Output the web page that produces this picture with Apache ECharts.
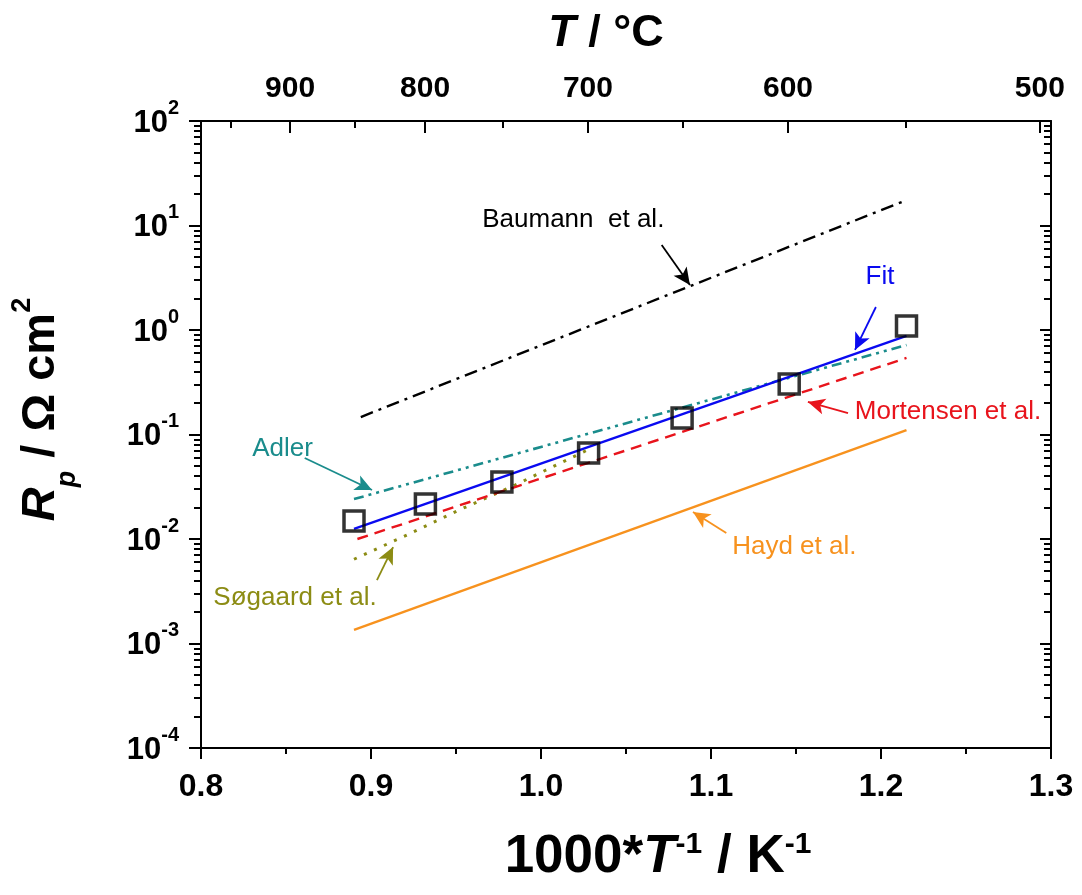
<!DOCTYPE html>
<html>
<head>
<meta charset="utf-8">
<script src="https://cdn.jsdelivr.net/npm/echarts@6/dist/echarts.min.js"></script>
<style>
  html, body { margin: 0; padding: 0; background: #fff; }
  #chart { width: 1082px; height: 895px; }
</style>
</head>
<body>
<div id="chart"></div>
<script>
// measured Rp (squares), x = 1000/T in 1/K
const invT = [0.890, 0.932, 0.977, 1.028, 1.083, 1.146, 1.215];
const rpMeasured = [0.0149, 0.0216, 0.0351, 0.0665, 0.144, 0.304, 1.09];

// lines: [1000/T, Rp]
const fitLine = [[0.890, 0.0125], [1.215, 0.877]];
const adlerLine = [[0.890, 0.0241], [1.215, 0.718]];
const mortensenLine = [[0.892, 0.0100], [1.215, 0.540]];
const haydLine = [[0.890, 0.00135], [1.215, 0.110]];
const baumannLine = [[0.894, 0.147], [1.215, 17.5]];
const soegaardLine = [[0.890, 0.0064], [0.921, 0.0109], [0.952, 0.0190], [0.985, 0.0330], [1.028, 0.0720]];

// axis ticks
const yDecades = [1e-4, 1e-3, 1e-2, 1e-1, 1, 10, 100];
const tempMajor = [900, 800, 700, 600, 500];   // °C, top axis
const tempMinor = [950, 850, 750, 650, 550];

// annotation text + arrow (from, to), in data coords
const notes = {
  baumann:   { text: 'Baumann  et al.',  at: [1.019, 11.3],  from: [1.071, 6.5],   to: [1.0876, 2.7] },
  fit:       { text: 'Fit',              at: [1.1994, 3.2],  from: [1.197, 1.66],  to: [1.1847, 0.644] },
  mortensen: { text: 'Mortensen et al.', at: [1.2394, 0.164], from: [1.1806, 0.16], to: [1.157, 0.205] },
  hayd:      { text: 'Hayd et al.',      at: [1.149, 0.00838], from: [1.109, 0.0114], to: [1.0894, 0.0181] },
  adler:     { text: 'Adler',            at: [0.848, 0.0726], from: [0.861, 0.0596], to: [0.9006, 0.0294] },
  soegaard:  { text: 'Søgaard et al.',   at: [0.8553, 0.00272], from: [0.9035, 0.00405], to: [0.913, 0.00838] }
};

const font = '"Liberation Sans", Arial, sans-serif';
const toInv = t => 1000 / (t + 273.15);

const yMinor = [];
yDecades.slice(0, -1).forEach(d => {
  for (let k = 2; k <= 9; k++) yMinor.push(+(k * d).toPrecision(3));
});

function lineSeries(data, color, dash, width, note) {
  return {
    type: 'line',
    data: data,
    symbol: 'none',
    lineStyle: { color: color, width: width, type: dash, cap: 'butt' },
    z: 3,
    markLine: {
      silent: true,
      symbol: ['none', 'arrow'],
      symbolSize: [12, 17],
      label: { show: false },
      lineStyle: { color: color, width: 1.8, type: 'solid' },
      data: [[{ coord: note.from }, { coord: note.to }]]
    },
    markPoint: {
      silent: true,
      symbol: 'rect',
      symbolSize: 1,
      itemStyle: { color: 'rgba(0,0,0,0)' },
      label: {
        show: true, position: 'inside', formatter: note.text,
        color: color, fontSize: 26, fontFamily: font
      },
      data: [{ coord: note.at }]
    }
  };
}

const chart = echarts.init(document.getElementById('chart'));

const tickStyle = { color: '#000', width: 2 };
const boldLabel = { color: '#000', fontFamily: font, fontWeight: 'bold' };

chart.setOption({
  animation: false,
  backgroundColor: '#fff',
  grid: { left: 201, right: 31, top: 121, bottom: 147, containLabel: false, outerBoundsMode: 'none' },
  xAxis: [
    {
      type: 'value', position: 'bottom', min: 0.8, max: 1.3, interval: 0.1,
      axisLine: { show: true, onZero: false, lineStyle: tickStyle },
      axisTick: { show: true, inside: false, length: 11, lineStyle: tickStyle },
      minorTick: { show: true, splitNumber: 2, length: 6, lineStyle: tickStyle },
      splitLine: { show: false },
      axisLabel: Object.assign({ fontSize: 32, margin: 23, formatter: v => v.toFixed(1) }, boldLabel),
      name: '{f|1000*}{i|T}{s|-1}{n| / K}{s|-1}',
      nameLocation: 'middle',
      nameGap: 82,
      nameTextStyle: {
        rich: {
          f: Object.assign({ fontSize: 53, lineHeight: 54, padding: [0, 0, 0, 64] }, boldLabel),
          n: Object.assign({ fontSize: 53, lineHeight: 54 }, boldLabel),
          i: Object.assign({ fontSize: 53, lineHeight: 54, fontStyle: 'italic' }, boldLabel),
          s: Object.assign({ fontSize: 30, lineHeight: 30, verticalAlign: 'top' }, boldLabel)
        }
      }
    },
    {
      type: 'value', position: 'top', min: 0.8, max: 1.3,
      axisLine: { show: true, onZero: false, lineStyle: tickStyle },
      axisTick: { show: true, inside: true, length: 12, lineStyle: tickStyle, customValues: tempMajor.map(toInv) },
      splitLine: { show: false },
      axisLabel: Object.assign({
        fontSize: 30, margin: 17,
        customValues: tempMajor.map(toInv),
        formatter: v => String(Math.round(1000 / v - 273.15))
      }, boldLabel),
      name: '{i|T}{n| / °C}',
      nameLocation: 'middle',
      nameGap: 65,
      nameTextStyle: {
        rich: {
          n: Object.assign({ fontSize: 45, padding: [0, 40, 0, 0] }, boldLabel),
          i: Object.assign({ fontSize: 45, fontStyle: 'italic' }, boldLabel)
        }
      }
    },
    {
      type: 'value', position: 'top', min: 0.8, max: 1.3,
      axisLine: { show: false },
      axisTick: { show: true, inside: true, length: 7, lineStyle: tickStyle, customValues: tempMinor.map(toInv) },
      axisLabel: { show: false },
      splitLine: { show: false }
    }
  ],
  yAxis: [
    {
      type: 'log', logBase: 10, min: 1e-4, max: 100, position: 'left',
      axisLine: { show: true, onZero: false, lineStyle: tickStyle },
      axisTick: { show: true, inside: false, length: 12, lineStyle: tickStyle, customValues: yDecades },
      splitLine: { show: false },
      axisLabel: {
        margin: 22,
        customValues: yDecades,
        formatter: v => '{b|10}{s|' + Math.round(Math.log10(v)) + '}',
        rich: {
          b: Object.assign({ fontSize: 31, lineHeight: 52, padding: [4, 0, 0, 0] }, boldLabel),
          s: Object.assign({ fontSize: 20, lineHeight: 20, verticalAlign: 'top', padding: [3, 0, 0, 0] }, boldLabel)
        }
      },
      name: '{i|R}{sub|p}{n| / Ω cm}{sup|2}',
      nameLocation: 'middle',
      nameRotate: 90,
      nameGap: 120,
      nameTextStyle: {
        rich: {
          i: Object.assign({ fontSize: 47, lineHeight: 79, fontStyle: 'italic', padding: [0, 0, 0, 50] }, boldLabel),
          n: Object.assign({ fontSize: 47, lineHeight: 79 }, boldLabel),
          sub: Object.assign({ fontSize: 27, lineHeight: 27, verticalAlign: 'bottom', fontStyle: 'italic' }, boldLabel),
          sup: Object.assign({ fontSize: 27, lineHeight: 27, verticalAlign: 'top', padding: [7, 0, 0, 0] }, boldLabel)
        }
      }
    },
    {
      type: 'log', logBase: 10, min: 1e-4, max: 100, position: 'left',
      axisLine: { show: false },
      axisTick: { show: true, inside: false, length: 7, lineStyle: tickStyle, customValues: yMinor },
      axisLabel: { show: false },
      splitLine: { show: false }
    },
    {
      type: 'log', logBase: 10, min: 1e-4, max: 100, position: 'right',
      axisLine: { show: true, onZero: false, lineStyle: tickStyle },
      axisTick: { show: true, inside: true, length: 11, lineStyle: tickStyle, customValues: yDecades },
      axisLabel: { show: false },
      splitLine: { show: false }
    },
    {
      type: 'log', logBase: 10, min: 1e-4, max: 100, position: 'right',
      axisLine: { show: false },
      axisTick: { show: true, inside: true, length: 7, lineStyle: tickStyle, customValues: yMinor },
      axisLabel: { show: false },
      splitLine: { show: false }
    }
  ],
  series: [
    lineSeries(baumannLine, '#000000', [13, 6, 3, 6], 2.4, notes.baumann),
    lineSeries(haydLine, '#f7921e', 'solid', 2.4, notes.hayd),
    lineSeries(soegaardLine, '#8c8c14', [3, 8], 3, notes.soegaard),
    lineSeries(mortensenLine, '#e8141c', [11, 7], 2.4, notes.mortensen),
    lineSeries(adlerLine, '#1a8c8c', [10, 5, 3, 5, 3, 5], 2.6, notes.adler),
    lineSeries(fitLine, '#0a0af0', 'solid', 2.4, notes.fit),
    {
      type: 'scatter',
      data: invT.map((x, i) => [x, rpMeasured[i]]),
      symbol: 'rect',
      symbolSize: 20,
      itemStyle: { color: 'rgba(0,0,0,0)', borderColor: '#000', borderWidth: 3.5 },
      z: 5
    }
  ]
});
</script>
</body>
</html>
